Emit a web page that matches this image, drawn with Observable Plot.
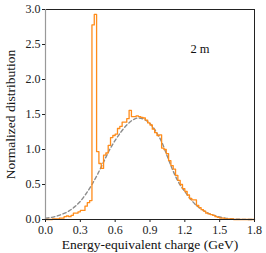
<!DOCTYPE html>
<html><head><meta charset="utf-8">
<script src="https://cdn.jsdelivr.net/npm/d3@7"></script>
<script src="https://cdn.jsdelivr.net/npm/@observablehq/plot@0.6"></script>
<style>
html,body{margin:0;padding:0;background:#fff;}
#chart svg{display:block;}
</style>
</head><body><div id="chart"></div>
<script>
// Histogram: bin left edges (GeV), bin width 0.02
const binWidth = 0.02;
const histValues = [
  0.00,0.00,0.00,0.01,0.01,0.01,0.02,0.02,0.04,0.05,
  0.04,0.06,0.09,0.09,0.11,0.13,0.13,0.19,0.24,0.27,
  2.78,2.93,0.97,0.80,0.73,0.92,0.95,1.06,1.17,1.20,
  1.22,1.30,1.33,1.39,1.39,1.44,1.56,1.47,1.47,1.48,
  1.47,1.46,1.45,1.42,1.38,1.35,1.29,1.24,1.20,1.21,
  1.02,1.00,0.94,0.84,0.77,0.72,0.63,0.56,0.50,0.44,
  0.40,0.35,0.30,0.28,0.28,0.20,0.17,0.14,0.12,0.09,
  0.08,0.07,0.06,0.04,0.03,0.02,0.02,0.01,0.01,0.01,
  0.01,0.00,0.00,0.00,0.00,0.00,0.00,0.00,0.00,0.00
];
// Fitted distribution (dashed grey)
const fitX = [0.00,0.05,0.10,0.15,0.20,0.25,0.30,0.35,0.40,0.45,0.50,0.55,0.60,0.65,0.70,0.75,0.80,0.85,0.90,0.95,1.00,1.05,1.10,1.15,1.20,1.25,1.30,1.35,1.40,1.45,1.50,1.55,1.60,1.65,1.70,1.80];
const fitY = [0.02,0.03,0.05,0.08,0.12,0.18,0.26,0.37,0.50,0.65,0.82,0.99,1.13,1.25,1.35,1.42,1.45,1.43,1.37,1.26,1.11,0.90,0.69,0.52,0.40,0.29,0.20,0.14,0.09,0.06,0.035,0.02,0.01,0.005,0.002,0.0];
const xTicks = [0.0,0.3,0.6,0.9,1.2,1.5,1.8];
const yTicks = [0.0,0.5,1.0,1.5,2.0,2.5,3.0];
const panelLabel = "2 m";
const xLabel = "Energy-equivalent charge (GeV)";
const yLabel = "Normalized distribution";

const hist = histValues.map((v,i)=>({x: i*binWidth, y: v}));
hist.push({x: histValues.length*binWidth, y: histValues[histValues.length-1]});
const fit = fitX.map((x,i)=>({x, y: fitY[i]}));

const font = "'Liberation Serif', serif";
const chart = Plot.plot({
  width: 266, height: 253,
  marginLeft: 45, marginRight: 12, marginTop: 9, marginBottom: 34,
  style: {fontFamily: font, fontSize: "12px", color: "#222", background: "#fff"},
  x: {domain: [0, 1.8]},
  y: {domain: [0, 3]},
  marks: [
    Plot.line(fit, {x: "x", y: "y", curve: "monotone-x", stroke: "#8c8c8c", strokeWidth: 1.4, strokeDasharray: "3.5,2.5"}),
    Plot.line(hist, {x: "x", y: "y", curve: "step-after", stroke: "#ff8c1a", strokeWidth: 1.3}),
    Plot.frame({stroke: "#222", strokeWidth: 1}),
    Plot.ruleX([0], {stroke: "#999", strokeWidth: 1.2}),
    Plot.axisX({ticks: xTicks, tickFormat: d3.format(".1f"), tickSize: 3, tickPadding: 3, fontSize: 12, label: null}),
    Plot.axisY({ticks: yTicks, tickFormat: d3.format(".1f"), tickSize: 3, tickPadding: 2, fontSize: 12, label: null}),
    Plot.text([xLabel], {frameAnchor: "bottom", dy: 25, textAnchor: "middle", lineAnchor: "middle", fontSize: 13.5, fill: "#111"}),
    Plot.text([yLabel], {frameAnchor: "left", dx: -35, rotate: -90, textAnchor: "middle", lineAnchor: "middle", fontSize: 13.5, fill: "#111"}),
    Plot.text([panelLabel], {frameAnchor: "top-right", dx: -45, dy: 35, fontSize: 12.5, fill: "#111"})
  ]
});
document.getElementById("chart").appendChild(chart);
</script>
</body></html>
